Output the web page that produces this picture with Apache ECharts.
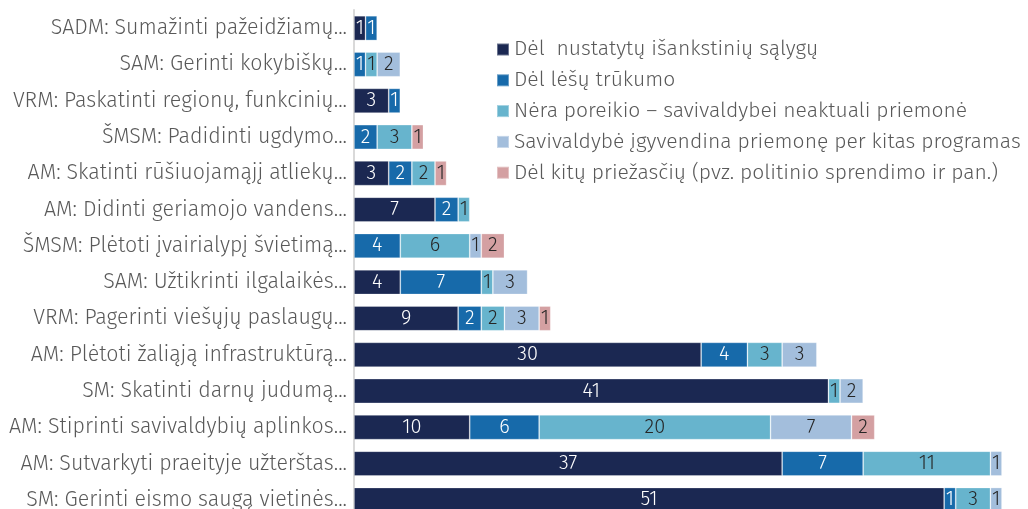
<!DOCTYPE html>
<html>
<head>
<meta charset="utf-8">
<script src="https://cdn.jsdelivr.net/npm/echarts@6/dist/echarts.min.js"></script>
<style>
html, body { margin: 0; padding: 0; background: #fff; }
#chart { width: 1028px; height: 509px; }
</style>
</head>
<body>
<div id="chart"></div>
<script>
var categories = [
    'SADM: Sumažinti pažeidžiamų...',
    'SAM: Gerinti kokybiškų...',
    'VRM: Paskatinti regionų, funkcinių...',
    'ŠMSM: Padidinti ugdymo...',
    'AM: Skatinti rūšiuojamąjį atliekų...',
    'AM: Didinti geriamojo vandens...',
    'ŠMSM: Plėtoti įvairialypį švietimą...',
    'SAM: Užtikrinti ilgalaikės...',
    'VRM: Pagerinti viešųjų paslaugų...',
    'AM: Plėtoti žaliąją infrastruktūrą...',
    'SM: Skatinti darnų judumą...',
    'AM: Stiprinti savivaldybių aplinkos...',
    'AM: Sutvarkyti praeityje užterštas...',
    'SM: Gerinti eismo saugą vietinės...'
];
var seriesNames = [
    'Dėl  nustatytų išankstinių sąlygų',
    'Dėl lėšų trūkumo',
    'Nėra poreikio – savivaldybei neaktuali priemonė',
    'Savivaldybė įgyvendina priemonę per kitas programas',
    'Dėl kitų priežasčių (pvz. politinio sprendimo ir pan.)'
];
var salygu    = [1, null, 3, null, 3, 7, null, 4, 9, 30, 41, 10, 37, 51];
var lesu      = [1, 1, 1, 2, 2, 2, 4, 7, 2, 4, null, 6, 7, 1];
var poreikio  = [null, 1, null, 3, 2, 1, 6, 1, 2, 3, 1, 20, 11, 3];
var kitomis   = [null, 2, null, null, null, null, 1, 3, 3, 3, 2, 7, 1, 1];
var kitu      = [null, null, null, 1, 1, null, 2, null, 1, null, null, 2, null, null];

var colors = ['#1b2852', '#176aaa', '#67b4cd', '#a3bedc', '#d4a0a2'];
var labelColors = ['#ffffff', '#ffffff', '#262626', '#262626', '#262626'];
var values = [salygu, lesu, poreikio, kitomis, kitu];
var font = 'Fira Sans, Roboto, sans-serif';

var myChart = echarts.init(document.getElementById('chart'));
var series = values.map(function (d, i) {
    return {
        name: seriesNames[i],
        type: 'bar',
        stack: 'total',
        data: d,
        barCategoryGap: '32%',
        itemStyle: {
            color: colors[i],
            borderColor: 'rgba(255,255,255,0.35)',
            borderWidth: 0.8
        },
        label: {
            show: true,
            position: 'inside',
            color: labelColors[i],
            fontFamily: font,
            fontWeight: 300,
            fontSize: 20
        },
        emphasis: { disabled: true }
    };
});

var option = {
    animation: false,
    color: colors,
    grid: { left: 354, width: 648, top: 10, height: 508, outerBoundsMode: 'none' },
    legend: {
        orient: 'vertical',
        left: 491,
        top: 34,
        itemWidth: 12,
        itemHeight: 12,
        itemGap: 9.8,
        icon: 'rect',
        data: seriesNames,
        textStyle: { color: '#595959', fontSize: 21.1, fontFamily: font, fontWeight: 300 }
    },
    xAxis: {
        type: 'value',
        min: 0,
        max: 56,
        show: false
    },
    yAxis: {
        type: 'category',
        data: categories,
        inverse: true,
        offset: 1,
        axisLine: { show: true, lineStyle: { color: '#d9d9d9', width: 2 } },
        axisTick: { show: false },
        axisLabel: {
            color: '#595959',
            fontSize: 21.4,
            fontFamily: font,
            fontWeight: 300,
            margin: 6
        }
    },
    series: series
};
myChart.setOption(option);
</script>
</body>
</html>
